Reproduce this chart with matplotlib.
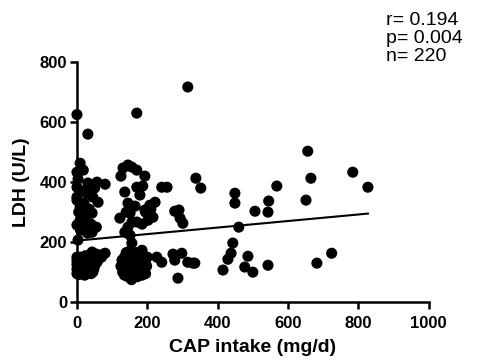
import matplotlib
matplotlib.use("Agg")
import matplotlib.pyplot as plt
import numpy as np

plt.rcParams['font.family'] = ['Liberation Sans', 'DejaVu Sans']

# scattered points
cap_scatter = [0, 31, 9, 0, 0, 0, 31, 57, 80, 28, 60, 9, 23, 43, 9, 0, 31, 43, 3, 43, 80,
               131, 145, 156, 193, 170, 315, 136, 170, 187, 179, 145, 207, 222, 193, 151, 122, 170, 202, 216, 156, 136, 151, 156, 185,
               241, 256, 278, 290, 293, 301,
               227, 241, 273, 278, 298, 315, 335, 287, 330,
               338, 352, 449, 449, 506, 545, 543, 568, 656, 665, 651, 460, 443, 438, 429, 415, 477, 486, 500, 543, 682, 724, 784, 827]
ldh_scatter = [625, 560, 463, 433, 383, 340, 397, 400, 393, 363, 333, 317, 297, 297, 273, 257, 263, 233, 207, 167, 163,
               447, 457, 450, 420, 630, 717, 367, 383, 387, 357, 330, 323, 333, 307, 297, 280, 267, 273, 283, 267, 233, 223, 197, 173,
               383, 383, 303, 307, 280, 263,
               150, 133, 160, 140, 163, 133, 130, 80, 130,
               413, 380, 363, 330, 303, 337, 300, 387, 503, 413, 340, 250, 197, 163, 143, 107, 117, 153, 100, 123, 130, 163, 433, 383]

# dense cluster near 0 mg/d
cap_left = [0, 0, 0, 0, 0, 2, 3, 4, 5, 5, 6, 8, 8, 9, 10, 10, 12, 13, 14, 15, 15, 17, 18, 19, 20, 20, 22, 23, 24, 25,
            25, 27, 28, 29, 30, 30, 32, 33, 35, 36, 38, 40, 40, 42, 44, 45, 50, 55, 60, 65, 70, 75, 48, 52, 58]
ldh_left = [95, 110, 125, 138, 150, 100, 118, 132, 92, 145, 108, 128, 140, 98, 115, 150, 105, 135, 122, 95, 142, 112, 130, 100, 120,
            148, 90, 138, 108, 125, 155, 98, 118, 135, 110, 145, 128, 100, 120, 140, 105, 130, 95, 115, 140, 100, 150, 160, 145,
            155, 150, 160, 110, 125, 135]

# dense cluster near 160 mg/d
cap_mid = [125, 128, 130, 132, 135, 135, 138, 140, 140, 142, 145, 145, 148, 150, 150, 152, 155, 155, 158, 160, 160, 162, 165, 165,
           168, 170, 170, 172, 175, 175, 178, 180, 180, 182, 185, 185, 188, 190, 190, 192, 195, 195, 198, 200, 140, 150, 160, 170, 180, 155,
           135, 148, 162, 175, 188, 158]
ldh_mid = [120, 140, 100, 130, 90, 150, 115, 105, 140, 125, 85, 160, 110, 95, 135, 150, 120, 80, 100, 145, 125, 90, 110, 155,
           130, 100, 140, 85, 120, 150, 105, 95, 135, 115, 90, 145, 125, 100, 140, 110, 130, 95, 120, 150, 165, 170, 160, 165, 115, 75,
           110, 128, 138, 95, 118, 102]

# overlapping points in the upper clusters
cap_extra = [0, 5, 10, 15, 20, 25, 30, 35, 40, 45, 50, 55, 3, 12, 18,
             125, 140, 165, 195, 210, 145, 185, 170]
ldh_extra = [350, 300, 240, 370, 330, 280, 230, 310, 260, 350, 380, 250, 410, 290, 440,
             420, 300, 320, 300, 310, 250, 260, 440]

# regression line parameters
fit_intercept = 205
fit_slope = 0.109
fit_xrange = [0, 827]

x_ticks = [0, 200, 400, 600, 800, 1000]
y_ticks = [0, 200, 400, 600, 800]

cap = np.array(cap_scatter + cap_left + cap_mid + cap_extra)
ldh = np.array(ldh_scatter + ldh_left + ldh_mid + ldh_extra)

fig = plt.figure(figsize=(4.78, 3.61), dpi=100)
ax = fig.add_axes([0.161, 0.163, 0.736, 0.665])

ax.scatter(cap, ldh, s=64, color='black', edgecolors='none', clip_on=False, zorder=3)
fx = np.array(fit_xrange)
ax.plot(fx, fit_intercept + fit_slope * fx, color='black', lw=1.5, zorder=4)

ax.set_xlim(0, 1000)
ax.set_ylim(0, 800)
ax.set_xticks(x_ticks)
ax.set_yticks(y_ticks)
for s in ['top', 'right']:
    ax.spines[s].set_visible(False)
for s in ['left', 'bottom']:
    ax.spines[s].set_linewidth(1.8)
ax.tick_params(direction='out', length=5, width=1.8, labelsize=12)
ax.tick_params(axis='x', pad=5)
ax.tick_params(axis='y', pad=2)
for lab in ax.get_xticklabels() + ax.get_yticklabels():
    lab.set_fontweight('bold')
ax.set_xlabel('CAP intake (mg/d)', fontsize=14, fontweight='bold', labelpad=6)
ax.set_ylabel('LDH (U/L)', fontsize=14, fontweight='bold', labelpad=7)

fig.text(0.808, 0.968, 'r= 0.194\np= 0.004\nn= 220', fontsize=14, va='top', ha='left', linespacing=1.1)

fig.savefig('out.png', dpi=100)
